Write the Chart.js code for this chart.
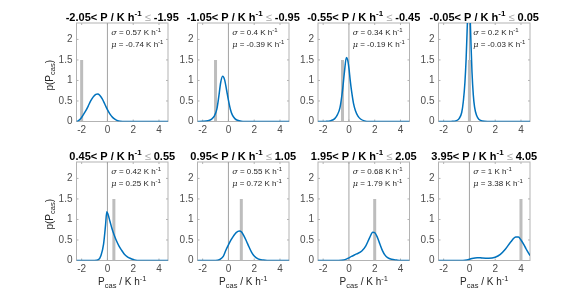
<!DOCTYPE html>
<html>
<head>
<meta charset="utf-8">
<script src="https://cdn.jsdelivr.net/npm/chart.js@4.4.1/dist/chart.umd.min.js"></script>
<style>
	body { margin: 0; background: #fff; }
	#wrap { position: relative; width: 586px; height: 293px; overflow: hidden; }
	#wrap canvas { position: absolute; left: 0; top: 0; }
</style>
</head>
<body>
<div id="wrap"></div>
<script>
// bin limits shown in the titles
const titleLow  = ['-2.05', '-1.05', '-0.55', '-0.05', '0.45', '0.95', '1.95', '3.95'];
const titleHigh = ['-1.95', '-0.95', '-0.45', '0.05', '0.55', '1.05', '2.05', '4.05'];
const binCentre = [-2, -1, -0.5, 0, 0.5, 1, 2, 4];
const sigmaText = ['0.57', '0.4', '0.34', '0.2', '0.42', '0.55', '0.68', '1'];
const muText    = ['-0.74', '-0.39', '-0.19', '-0.03', '0.25', '0.72', '1.79', '3.38'];
const xTicks = [-2, 0, 2, 4];
const yTicks = [0, 0.5, 1, 1.5, 2];
const xRange = [-2.4, 4.7];
const yRange = [0, 2.4];
const barTop = 1.5;

// density curves
const pdfX1 = [-2.4, -2.3, -2.1, -1.9, -1.7, -1.5, -1.3, -1.1, -0.9, -0.75, -0.6, -0.4, -0.2, 0, 0.2, 0.4, 0.6, 0.8, 1.0, 1.3, 4.7];
const pdfY1 = [0, 0.01, 0.06, 0.15, 0.25, 0.37, 0.5, 0.6, 0.66, 0.67, 0.64, 0.55, 0.42, 0.29, 0.18, 0.1, 0.05, 0.02, 0.008, 0, 0];
const pdfX2 = [-2.4, -2.0, -1.6, -1.3, -1.1, -0.9, -0.75, -0.6, -0.45, -0.3, -0.15, 0, 0.15, 0.3, 0.5, 0.7, 1.0, 1.3, 4.7];
const pdfY2 = [0, 0.005, 0.02, 0.06, 0.13, 0.3, 0.6, 0.95, 1.1, 1.02, 0.78, 0.52, 0.3, 0.16, 0.07, 0.03, 0.005, 0, 0];
const pdfX3 = [-2.4, -1.8, -1.4, -1.1, -0.9, -0.7, -0.5, -0.35, -0.2, -0.1, 0, 0.1, 0.2, 0.35, 0.5, 0.7, 0.9, 1.2, 1.6, 4.7];
const pdfY3 = [0, 0.003, 0.02, 0.07, 0.16, 0.33, 0.75, 1.2, 1.56, 1.5, 1.3, 1.0, 0.75, 0.45, 0.27, 0.13, 0.06, 0.015, 0, 0];
const pdfX4 = [-2.4, -1.4, -1.0, -0.8, -0.6, -0.47, -0.35, -0.26, -0.18, -0.1, -0.03, 0.05, 0.12, 0.2, 0.3, 0.4, 0.55, 0.75, 1.0, 1.4, 4.7];
const pdfY4 = [0, 0.003, 0.02, 0.07, 0.22, 0.5, 0.95, 1.5, 2.2, 2.9, 3.1, 2.6, 1.9, 1.2, 0.65, 0.35, 0.15, 0.05, 0.01, 0, 0];
const pdfX5 = [-2.4, -1.0, -0.7, -0.5, -0.3, -0.15, -0.05, 0.05, 0.2, 0.35, 0.5, 0.7, 0.9, 1.1, 1.3, 1.55, 1.8, 2.1, 2.5, 4.7];
const pdfY5 = [0, 0, 0.02, 0.12, 0.4, 0.85, 1.19, 1.12, 0.95, 0.78, 0.64, 0.48, 0.35, 0.25, 0.16, 0.09, 0.05, 0.015, 0, 0];
const pdfX6 = [-2.4, -1.0, -0.7, -0.4, -0.2, 0, 0.2, 0.4, 0.6, 0.85, 1.0, 1.2, 1.4, 1.6, 1.8, 2.0, 2.3, 2.7, 3.0, 4.7];
const pdfY6 = [0, 0, 0.02, 0.1, 0.25, 0.38, 0.5, 0.6, 0.68, 0.72, 0.7, 0.6, 0.47, 0.33, 0.2, 0.11, 0.04, 0.01, 0, 0];
const pdfX7 = [-2.4, -0.8, -0.4, -0.1, 0.2, 0.6, 1.0, 1.3, 1.6, 1.85, 2.0, 2.2, 2.4, 2.6, 2.8, 3.0, 3.3, 3.7, 4.0, 4.7];
const pdfY7 = [0, 0, 0.01, 0.05, 0.1, 0.16, 0.23, 0.35, 0.55, 0.69, 0.68, 0.57, 0.4, 0.24, 0.13, 0.07, 0.03, 0.01, 0, 0];
const pdfX8 = [-2.4, -0.5, -0.2, 0.2, 0.6, 1.0, 1.5, 2.0, 2.4, 2.8, 3.2, 3.6, 3.8, 4.0, 4.2, 4.4, 4.7];
const pdfY8 = [0, 0, 0.01, 0.05, 0.07, 0.06, 0.055, 0.08, 0.15, 0.28, 0.45, 0.57, 0.57, 0.5, 0.4, 0.28, 0.12];

const pdfX = [pdfX1, pdfX2, pdfX3, pdfX4, pdfX5, pdfX6, pdfX7, pdfX8];
const pdfY = [pdfY1, pdfY2, pdfY3, pdfY4, pdfY5, pdfY6, pdfY7, pdfY8];

const W = 586, H = 293;
const COL_LEFT = [76.5, 197.5, 318, 438.5];
const ROW_TOP = [23, 162];
const PLOT_W = 91.5, PLOT_H = 98.5;
const Y_AXIS_W = 30, X_AXIS_H = 18;
const SANS = '"Liberation Sans", Arial, sans-serif';
const BOX = '#b3b3b3';

function drawParts(ctx, parts, x, y, align) {
	let total = 0;
	parts.forEach(p => { ctx.font = p.font; p.w = ctx.measureText(p.text).width; total += p.w; });
	let cx = align === 'center' ? x - total / 2 : x;
	parts.forEach(p => {
		ctx.font = p.font;
		ctx.fillStyle = p.color || '#262626';
		ctx.fillText(p.text, cx, y + (p.dy || 0));
		cx += p.w;
	});
}

const panelDecor = {
	id: 'panelDecor',
	beforeDatasetsDraw(chart, args, opts) {
		const { ctx, chartArea: a } = chart;
		const xs = chart.scales.x, ys = chart.scales.y;
		ctx.save();
		ctx.strokeStyle = BOX;
		ctx.lineWidth = 1;
		ctx.strokeRect(a.left, a.top, a.right - a.left, a.bottom - a.top);
		// inward ticks on all four sides
		ctx.beginPath();
		xTicks.forEach(v => {
			const px = xs.getPixelForValue(v);
			ctx.moveTo(px, a.bottom); ctx.lineTo(px, a.bottom - 2);
			ctx.moveTo(px, a.top); ctx.lineTo(px, a.top + 2);
		});
		yTicks.forEach(v => {
			const py = ys.getPixelForValue(v);
			ctx.moveTo(a.left, py); ctx.lineTo(a.left + 2, py);
			ctx.moveTo(a.right, py); ctx.lineTo(a.right - 2, py);
		});
		ctx.stroke();
		ctx.restore();
	},
	afterDraw(chart, args, opts) {
		const i = opts.panel;
		const { ctx, chartArea: a } = chart;
		const xs = chart.scales.x, ys = chart.scales.y;
		const cx = (a.left + a.right) / 2;
		ctx.save();
		ctx.textBaseline = 'alphabetic';
		drawParts(ctx, [
			{ text: titleLow[i] + '< P / K h', font: 'bold 11px ' + SANS, color: '#000' },
			{ text: '-1', font: 'bold 8px ' + SANS, color: '#000', dy: -4.5 },
			{ text: ' \u2264 ', font: '11px ' + SANS, color: '#a6a6a6' },
			{ text: titleHigh[i], font: 'bold 11px ' + SANS, color: '#000' }
		], cx, a.top - 2.5, 'center');

		ctx.textBaseline = 'middle';
		const tx = xs.getPixelForValue(0.3);
		[['\u03c3', sigmaText[i], 2.15], ['\u03bc', muText[i], 1.86]].forEach(([sym, val, yv]) => {
			drawParts(ctx, [
				{ text: sym, font: 'italic 8px "DejaVu Serif", serif' },
				{ text: ' = ' + val + ' K h', font: '8px ' + SANS },
				{ text: '-1', font: '6px ' + SANS, dy: -3 }
			], tx, ys.getPixelForValue(yv), 'left');
		});

		if (i % 4 === 0) {
			ctx.save();
			ctx.translate(50, (a.top + a.bottom) / 2 + 3);
			ctx.rotate(-Math.PI / 2);
			drawParts(ctx, [
				{ text: 'p(P', font: '10px ' + SANS },
				{ text: 'cas', font: '7.5px ' + SANS, dy: 3 },
				{ text: ')', font: '10px ' + SANS }
			], 0, 0, 'center');
			ctx.restore();
		}
		if (i >= 4) {
			ctx.textBaseline = 'alphabetic';
			drawParts(ctx, [
				{ text: 'P', font: '10px ' + SANS },
				{ text: 'cas', font: '7.5px ' + SANS, dy: 3 },
				{ text: ' / K h', font: '10px ' + SANS },
				{ text: '-1', font: '7.5px ' + SANS, dy: -4 }
			], cx, 285, 'center');
		}
		ctx.restore();
	}
};
Chart.register(panelDecor);

const wrap = document.getElementById('wrap');

for (let i = 0; i < 8; i++) {
	const left = COL_LEFT[i % 4];
	const top = ROW_TOP[Math.floor(i / 4)];
	const canvas = document.createElement('canvas');
	canvas.width = W;
	canvas.height = H;
	wrap.appendChild(canvas);

	const curve = pdfX[i].map((x, k) => ({ x: x, y: pdfY[i][k] }));
	const tickFont = { family: SANS, size: 10 };

	new Chart(canvas, {
		type: 'line',
		data: {
			datasets: [
				{ data: curve, borderColor: '#0072BD', borderWidth: 1.5, pointRadius: 0, cubicInterpolationMode: 'monotone', fill: false },
				{ data: [{ x: binCentre[i], y: 0 }, { x: binCentre[i], y: barTop }], borderColor: '#bdbdbd', borderWidth: 3, pointRadius: 0, fill: false },
				{ data: [{ x: 0, y: yRange[0] }, { x: 0, y: yRange[1] }], borderColor: '#a3a3a3', borderWidth: 1, pointRadius: 0, fill: false }
			]
		},
		options: {
			responsive: false,
			animation: false,
			events: [],
			layout: {
				padding: {
					left: left - Y_AXIS_W,
					right: W - left - PLOT_W,
					top: top,
					bottom: H - top - PLOT_H - X_AXIS_H
				}
			},
			plugins: {
				legend: { display: false },
				tooltip: { enabled: false },
				panelDecor: { panel: i }
			},
			scales: {
				x: {
					type: 'linear', min: xRange[0], max: xRange[1],
					afterBuildTicks: s => { s.ticks = xTicks.map(v => ({ value: v })); },
					afterFit: s => { s.height = X_AXIS_H; },
					grid: { display: false, drawTicks: false },
					border: { display: false },
					ticks: { font: tickFont, color: '#4d4d4d', padding: 3, maxRotation: 0, autoSkip: false }
				},
				y: {
					type: 'linear', min: yRange[0], max: yRange[1],
					afterBuildTicks: s => { s.ticks = yTicks.map(v => ({ value: v })); },
					afterFit: s => { s.width = Y_AXIS_W; },
					grid: { display: false, drawTicks: false },
					border: { display: false },
					ticks: { font: tickFont, color: '#4d4d4d', padding: 4, autoSkip: false, callback: v => String(v) }
				}
			}
		}
	});
}
</script>
</body>
</html>
